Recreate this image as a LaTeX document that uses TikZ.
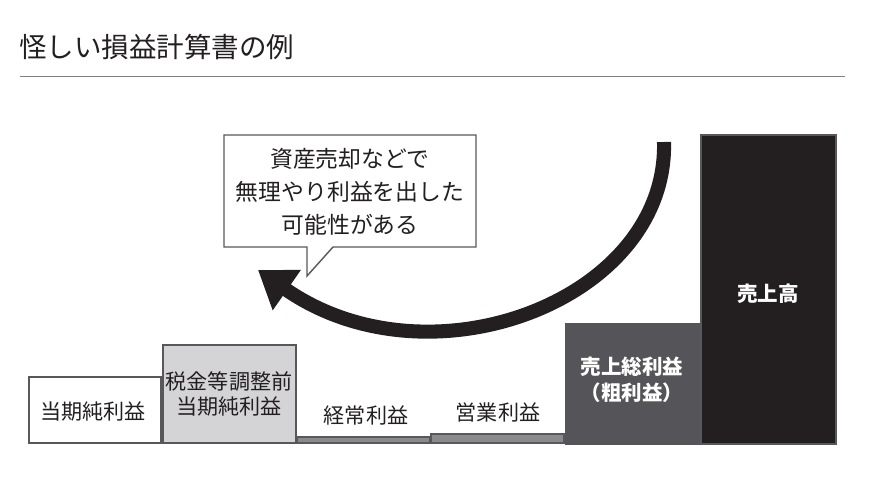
\documentclass[tikz,border=0pt]{standalone}
\usepackage{fontspec}
\setmainfont{Noto Sans CJK JP}
\usetikzlibrary{arrows.meta}
\definecolor{dk}{HTML}{231F20}
\definecolor{md}{HTML}{555458}
\definecolor{lg}{HTML}{D4D4D6}
\definecolor{br}{HTML}{58585A}
\definecolor{bar}{HTML}{8A8A8C}
\begin{document}
\begin{tikzpicture}[x=0.03cm,y=-0.03cm,
  lbl/.style={font=\fontsize{18pt}{21pt}\selectfont, align=center, text=dk},
  wlbl/.style={font=\fontsize{17.5pt}{22pt}\selectfont\bfseries, align=center, text=white},
  boxs/.style={draw=br, line width=2.5pt}]
\useasboundingbox (0,0) rectangle (879,497);
\node[anchor=west, font=\fontsize{23.5pt}{26pt}\selectfont, text=dk] (title) at (15,47) {怪しい損益計算書の例};
\draw[gray, line width=0.6pt] (20,76) -- (845,76);
% boxes
\draw[boxs, fill=white] (29,377) rectangle (161,443);
\node[lbl] (n1) at (93,411) {当期純利益};
\draw[boxs, fill=lg] (163,345) rectangle (296,443);
\node[lbl] (n2) at (229,394) {税金等調整前\\当期純利益};
\draw[boxs, fill=bar] (297,437) rectangle (430,443);
\node[lbl] (n3) at (366,415) {経常利益};
\draw[boxs, fill=bar] (431,434) rectangle (564,443);
\node[lbl] (n4) at (498,412) {営業利益};
\fill[md] (565,323) rectangle (700,445);
\node[wlbl] (n5) at (632,380) {売上総利益\\（粗利益）};
\draw[br, fill=dk, line width=1.5pt] (701,135) rectangle (836,444);
\node[wlbl] (n6) at (768,294) {売上高};
% callout
\draw[br, line width=1.2pt, fill=white] (224,135) -- (476,135) -- (476,247) -- (333,247) -- (307,276) -- (307,247) -- (224,247) -- cycle;
\node[lbl, font=\fontsize{19.5pt}{28pt}\selectfont] (call) at (350,192) {資産売却などで\\無理やり利益を出した\\可能性がある};
% arrow
\coordinate (as) at (664,142);
\coordinate (ae) at (258,270);
\draw[dk, line width=12pt, -{Triangle[length=30pt,width=40pt]}] (as) .. controls (668,300) and (430,390) .. (ae);
\end{tikzpicture}
\end{document}
